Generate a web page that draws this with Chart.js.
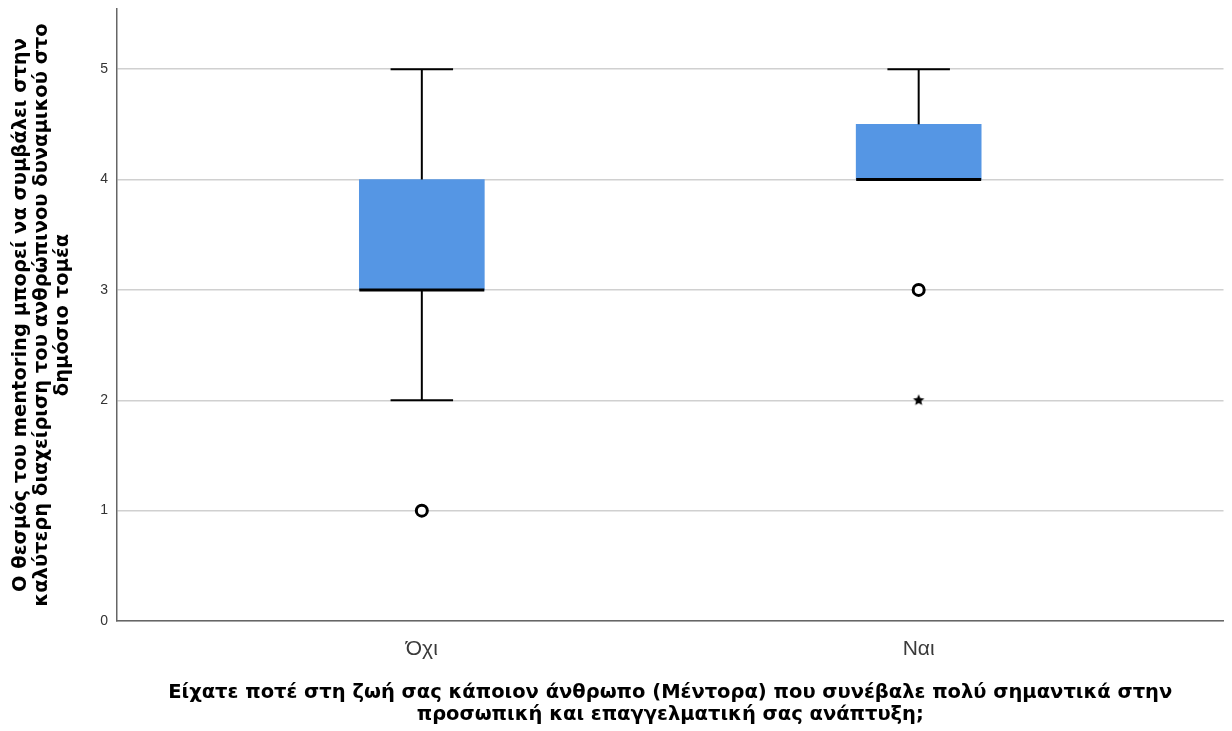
<!DOCTYPE html>
<html>
<head>
<meta charset="utf-8">
<script src="https://cdn.jsdelivr.net/npm/chart.js@4.4.1/dist/chart.umd.min.js"></script>
<style>
  html, body { margin: 0; padding: 0; background: #ffffff; }
  #wrap { width: 1232px; height: 731px; }
</style>
</head>
<body>
<div id="wrap"><canvas id="c" width="1232" height="731"></canvas></div>
<script>
// Groups on the x axis and their positions
const groups = ['Όχι', 'Ναι'];
const groupPos = [0, 1];

// Five-number summaries per group
const whiskerLow = [2, 4];
const q1 = [3, 4];
const median = [3, 4];
const q3 = [4, 4.5];
const whiskerHigh = [5, 5];

// Outliers (circles) and extreme values (stars)
const outlierGroup = [0, 1];
const outlierValue = [1, 3];
const extremeGroup = [1];
const extremeValue = [2];

// Value axis ticks
const yTicks = [0, 1, 2, 3, 4, 5];

const yTitle = [
  'Ο θεσμός του mentoring μπορεί να συμβάλει στην',
  'καλύτερη διαχείριση του ανθρώπινου δυναμικού στο',
  'δημόσιο τομέα'
];
const xTitle = [
  'Είχατε ποτέ στη ζωή σας κάποιον άνθρωπο (Μέντορα) που συνέβαλε πολύ σημαντικά στην',
  'προσωπική και επαγγελματική σας ανάπτυξη;'
];

// Filled star marker for extreme values
function makeStar(r) {
  const size = Math.ceil(r * 2 + 2);
  const cv = document.createElement('canvas');
  cv.width = size; cv.height = size;
  const g = cv.getContext('2d');
  const cx = size / 2, cy = size / 2;
  g.beginPath();
  for (let i = 0; i < 10; i++) {
    const rad = i % 2 === 0 ? r : r * 0.45;
    const a = -Math.PI / 2 + i * Math.PI / 5;
    const px = cx + rad * Math.cos(a), py = cy + rad * Math.sin(a);
    if (i === 0) g.moveTo(px, py); else g.lineTo(px, py);
  }
  g.closePath();
  g.fillStyle = '#000';
  g.fill();
  return cv;
}

// Whiskers, caps and median lines, drawn from the box elements and scales
const boxDecor = {
  id: 'boxDecor',
  afterDatasetsDraw(chart) {
    const ctx = chart.ctx;
    const y = chart.scales.y;
    const meta = chart.getDatasetMeta(0);
    ctx.save();
    meta.data.forEach((bar, i) => {
      const cx = bar.x;
      const half = bar.width / 2;
      const cap = half / 2;
      ctx.strokeStyle = '#000';
      ctx.lineCap = 'butt';
      ctx.lineWidth = 2;
      // upper whisker
      if (whiskerHigh[i] > q3[i]) {
        ctx.beginPath();
        ctx.moveTo(cx, y.getPixelForValue(q3[i]));
        ctx.lineTo(cx, y.getPixelForValue(whiskerHigh[i]));
        ctx.stroke();
      }
      ctx.beginPath();
      ctx.moveTo(cx - cap, y.getPixelForValue(whiskerHigh[i]));
      ctx.lineTo(cx + cap, y.getPixelForValue(whiskerHigh[i]));
      ctx.stroke();
      // lower whisker
      if (whiskerLow[i] < q1[i]) {
        ctx.beginPath();
        ctx.moveTo(cx, y.getPixelForValue(q1[i]));
        ctx.lineTo(cx, y.getPixelForValue(whiskerLow[i]));
        ctx.stroke();
        ctx.beginPath();
        ctx.moveTo(cx - cap, y.getPixelForValue(whiskerLow[i]));
        ctx.lineTo(cx + cap, y.getPixelForValue(whiskerLow[i]));
        ctx.stroke();
      }
      // median
      ctx.lineWidth = 3;
      ctx.beginPath();
      ctx.moveTo(cx - half, y.getPixelForValue(median[i]));
      ctx.lineTo(cx + half, y.getPixelForValue(median[i]));
      ctx.stroke();
    });
    ctx.restore();
  }
};

const FONT = "'Liberation Sans', Arial, sans-serif";
const TITLE_FONT = "'DejaVu Sans', 'Liberation Sans', sans-serif";

new Chart(document.getElementById('c'), {
  type: 'bar',
  data: {
    datasets: [
      {
        type: 'bar',
        data: groupPos.map((p, i) => ({ x: p, y: [q1[i], q3[i]] })),
        backgroundColor: '#5596e4',
        borderWidth: 0,
        barThickness: 125,
        order: 3
      },
      {
        type: 'scatter',
        data: outlierGroup.map((g, i) => ({ x: groupPos[g], y: outlierValue[i] })),
        pointStyle: 'circle',
        pointRadius: 5.5,
        borderWidth: 3,
        borderColor: '#000',
        backgroundColor: '#fff',
        order: 1
      },
      {
        type: 'scatter',
        data: extremeGroup.map((g, i) => ({ x: groupPos[g], y: extremeValue[i] })),
        pointStyle: makeStar(6),
        order: 1
      }
    ]
  },
  options: {
    responsive: false,
    animation: false,
    devicePixelRatio: 1,
    layout: { padding: { top: 9, right: 7, left: 0, bottom: 0 } },
    plugins: {
      legend: { display: false },
      tooltip: { enabled: false }
    },
    scales: {
      x: {
        type: 'linear',
        offset: false,
        min: -0.6135,
        max: 1.6135,
        afterBuildTicks: (s) => { s.ticks = groupPos.map(v => ({ value: v })); },
        afterFit: (s) => { s.height = 110; },
        ticks: {
          callback: (v) => groups[groupPos.indexOf(v)],
          font: { family: FONT, size: 21 },
          color: '#3a3a3a',
          padding: 16,
          maxRotation: 0,
          autoSkip: false
        },
        grid: { display: false, drawTicks: false },
        border: { display: true, color: '#666', width: 1.5 },
        title: {
          display: true,
          text: xTitle,
          font: { family: TITLE_FONT, size: 19.5, weight: 'bold', lineHeight: 1.13 },
          color: '#000',
          padding: { top: 0, bottom: 5 }
        }
      },
      y: {
        min: 0,
        max: 5.545,
        afterBuildTicks: (s) => { s.ticks = yTicks.map(v => ({ value: v })); },
        afterFit: (s) => { s.width = 117; s.paddingTop = 0; s.paddingBottom = 0; },
        ticks: {
          font: { family: FONT, size: 14 },
          color: '#333',
          padding: 9
        },
        grid: { color: '#d0d0d0', lineWidth: 1.5, drawTicks: false },
        border: { display: true, color: '#666', width: 1.5 },
        title: {
          display: true,
          text: yTitle,
          font: { family: TITLE_FONT, size: 19.5, weight: 'bold', lineHeight: 1.06 },
          color: '#000',
          padding: { top: 11, bottom: 0 }
        }
      }
    }
  },
  plugins: [boxDecor]
});
</script>
</body>
</html>
